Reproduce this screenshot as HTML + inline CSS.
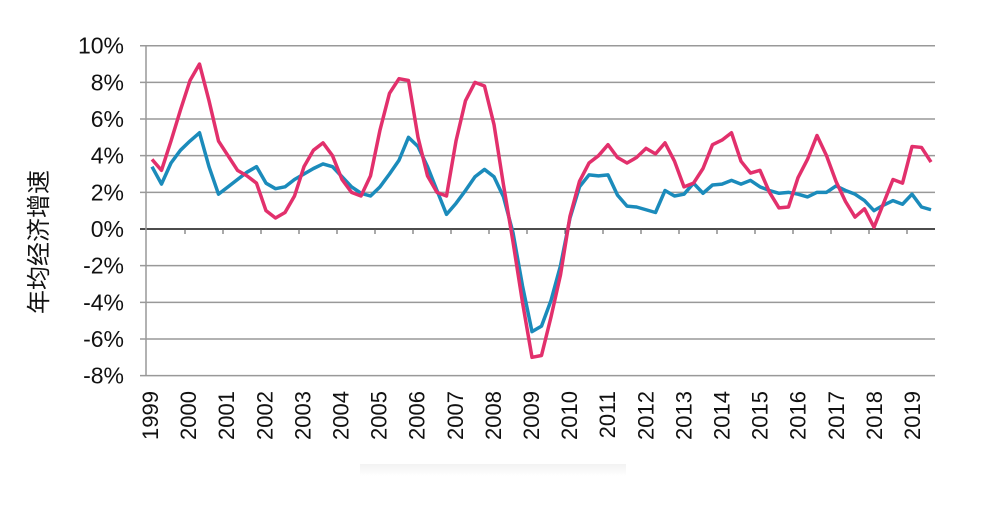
<!DOCTYPE html>
<html><head><meta charset="utf-8"><style>
body{margin:0;background:#fff;}
svg text{font-family:"Liberation Sans","Noto Sans CJK SC",sans-serif;fill:#111;}
</style></head><body>
<svg id="chart" width="995" height="510" viewBox="0 0 995 510" xmlns="http://www.w3.org/2000/svg">
<defs><linearGradient id="sh" x1="0" y1="0" x2="0" y2="1"><stop offset="0" stop-color="#f2f2f2"/><stop offset="1" stop-color="#fff"/></linearGradient></defs>
<rect x="360" y="464" width="266" height="12" fill="url(#sh)"/>
<g id="grid"></g><g id="ylabels"></g><g id="xlabels"></g><g id="series"></g>
<text transform="translate(47,242) rotate(-90)" text-anchor="middle" font-size="24">年均经济增速</text>
</svg>
<script>
const yTicks=[10,8,6,4,2,0,-2,-4,-6,-8];
const yTickLabels=["10%","8%","6%","4%","2%","0%","-2%","-4%","-6%","-8%"];
const years=["1999","2000","2001","2002","2003","2004","2005","2006","2007","2008","2009","2010","2011","2012","2013","2014","2015","2016","2017","2018","2019"];
const redSeries=[3.8,3.2,4.8,6.5,8.1,9.0,7.0,4.8,4.0,3.2,2.9,2.5,1.0,0.6,0.9,1.8,3.4,4.3,4.7,4.0,2.7,2.0,1.8,2.9,5.4,7.4,8.2,8.1,5.0,2.9,2.0,1.8,4.8,7.0,8.0,7.8,5.7,2.4,-0.7,-4.0,-7.0,-6.9,-4.8,-2.5,0.7,2.6,3.6,4.0,4.6,3.9,3.6,3.9,4.4,4.1,4.7,3.7,2.3,2.5,3.3,4.6,4.85,5.25,3.7,3.05,3.2,2.0,1.15,1.2,2.8,3.8,5.1,4.0,2.6,1.5,0.65,1.1,0.1,1.4,2.7,2.5,4.5,4.45,3.65];
const blueSeries=[3.4,2.45,3.6,4.3,4.8,5.25,3.4,1.9,2.3,2.7,3.1,3.4,2.5,2.2,2.3,2.7,3.0,3.3,3.55,3.4,2.85,2.3,1.95,1.8,2.3,3.0,3.75,5.0,4.5,3.4,2.1,0.8,1.4,2.1,2.85,3.25,2.85,1.75,-0.2,-3.1,-5.6,-5.3,-3.9,-2.0,0.6,2.3,2.95,2.9,2.95,1.85,1.25,1.2,1.05,0.9,2.1,1.8,1.9,2.5,1.95,2.4,2.45,2.65,2.45,2.65,2.3,2.1,1.95,2.0,1.9,1.75,2.0,2.0,2.35,2.1,1.9,1.55,1.0,1.3,1.55,1.35,1.9,1.2,1.05];
const NS="http://www.w3.org/2000/svg";
function y(v){return 229-(v)*18.33;}
function x(i){return 152+i*9.5;}
function mk(t,a,p){const e=document.createElementNS(NS,t);for(const k in a)e.setAttribute(k,a[k]);p.appendChild(e);return e;}
const grid=document.getElementById('grid'),yl=document.getElementById('ylabels'),xl=document.getElementById('xlabels'),se=document.getElementById('series');
yTicks.forEach((v,k)=>{
  const l=mk('line',{x1:140,x2:935,y1:y(v),y2:y(v),stroke:v===0?'#111':'#999','stroke-width':1.5},grid);
  
  
  const t=mk('text',{x:124,y:y(v)+8,'text-anchor':'end','font-size':23},yl);
  t.textContent=yTickLabels[k];
  
  
});
const ax=mk('line',{x1:146,x2:146,y1:y(10),y2:y(-8),stroke:'#999','stroke-width':1.5},grid);


years.forEach((s,i)=>{
  if(i>0){const tk=mk('line',{x1:147+i*38,x2:147+i*38,y1:y(0),y2:y(0)+5,stroke:'#555','stroke-width':1},grid);
  
  }
  const t=mk('text',{transform:`translate(${158+i*38.1},391) rotate(-90)`,'text-anchor':'end','font-size':22},xl);
  t.textContent=s;
  
  
});
function line(arr,color,name){
  const p=mk('polyline',{points:arr.map((v,i)=>x(i)+','+y(v)).join(' '),fill:'none',stroke:color,'stroke-width':3.5,'stroke-linejoin':'round'},se);
  
  
}
line(blueSeries,'#1b8bbb','blue-series-line');
line(redSeries,'#e2306c','red-series-line');
</script>
</body></html>
